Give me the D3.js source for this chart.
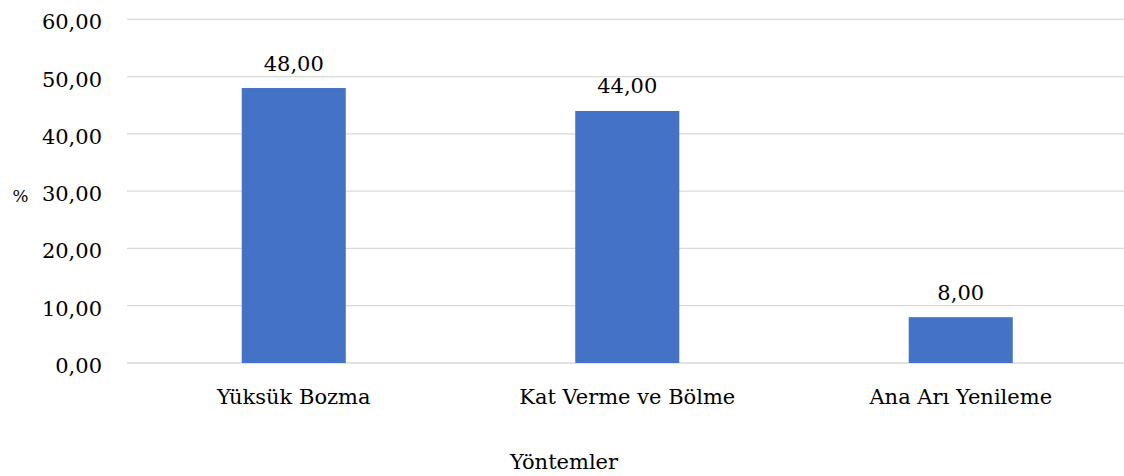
<!DOCTYPE html>
<html>
<head>
<meta charset="utf-8">
<script src="https://cdn.jsdelivr.net/npm/d3@7"></script>
<style>
  body { margin: 0; background: #fff; }
  text { font-family: "DejaVu Serif", serif; fill: #000; }
</style>
</head>
<body>
<svg id="chart" width="1124" height="476"></svg>
<script>
const categories = ['Yüksük Bozma', 'Kat Verme ve Bölme', 'Ana Arı Yenileme']
const values = [48, 44, 8]
const yTicks = [0, 10, 20, 30, 40, 50, 60]
const yLabel = '%'
const xLabel = 'Yöntemler'

const fmt = v => v.toFixed(2).replace('.', ',')

const width = 1124
const plot = { left: 127, right: 1127.5, top: 19.3, bottom: 363 }
// reference text is a little wider than it is tall
const stretch = 1.05
const place = (x, y) => `translate(${x},${y}) scale(${stretch},1)`

const svg = d3.select('#chart')

const x = d3.scaleBand()
  .domain(categories)
  .range([plot.left, plot.right])
  .paddingInner(0.688)
  .paddingOuter(0.344)

const y = d3.scaleLinear()
  .domain([0, 60])
  .range([plot.bottom, plot.top])

// gridlines
svg.append('g')
  .selectAll('line')
  .data(yTicks)
  .enter()
  .append('line')
  .attr('x1', plot.left)
  .attr('x2', width)
  .attr('y1', d => y(d))
  .attr('y2', d => y(d))
  .attr('stroke', '#d9d9d9')
  .attr('stroke-width', 1.3)

// y tick labels
svg.append('g')
  .selectAll('text')
  .data(yTicks)
  .enter()
  .append('text')
  .attr('transform', d => place(102, y(d) + 10))
  .attr('text-anchor', 'end')
  .attr('font-size', 20)
  .text(fmt)

// bars
svg.append('g')
  .selectAll('rect')
  .data(values)
  .enter()
  .append('rect')
  .attr('x', (d, i) => x(categories[i]))
  .attr('width', x.bandwidth())
  .attr('y', d => y(d))
  .attr('height', d => y(0) - y(d))
  .attr('fill', '#4472c4')

// value labels
svg.append('g')
  .selectAll('text')
  .data(values)
  .enter()
  .append('text')
  .attr('transform', (d, i) => place(x(categories[i]) + x.bandwidth() / 2, y(d) - 17.5))
  .attr('text-anchor', 'middle')
  .attr('font-size', 20)
  .text(fmt)

// category labels
svg.append('g')
  .selectAll('text')
  .data(categories)
  .enter()
  .append('text')
  .attr('transform', d => place(x(d) + x.bandwidth() / 2, 403.5))
  .attr('text-anchor', 'middle')
  .attr('font-size', 20)
  .text(d => d)

// axis titles
svg.append('text')
  .attr('transform', place(20.5, 201.5))
  .attr('text-anchor', 'middle')
  .attr('font-size', 16)
  .text(yLabel)

svg.append('text')
  .attr('transform', place(564, 469))
  .attr('text-anchor', 'middle')
  .attr('font-size', 20)
  .text(xLabel)
</script>
</body>
</html>
